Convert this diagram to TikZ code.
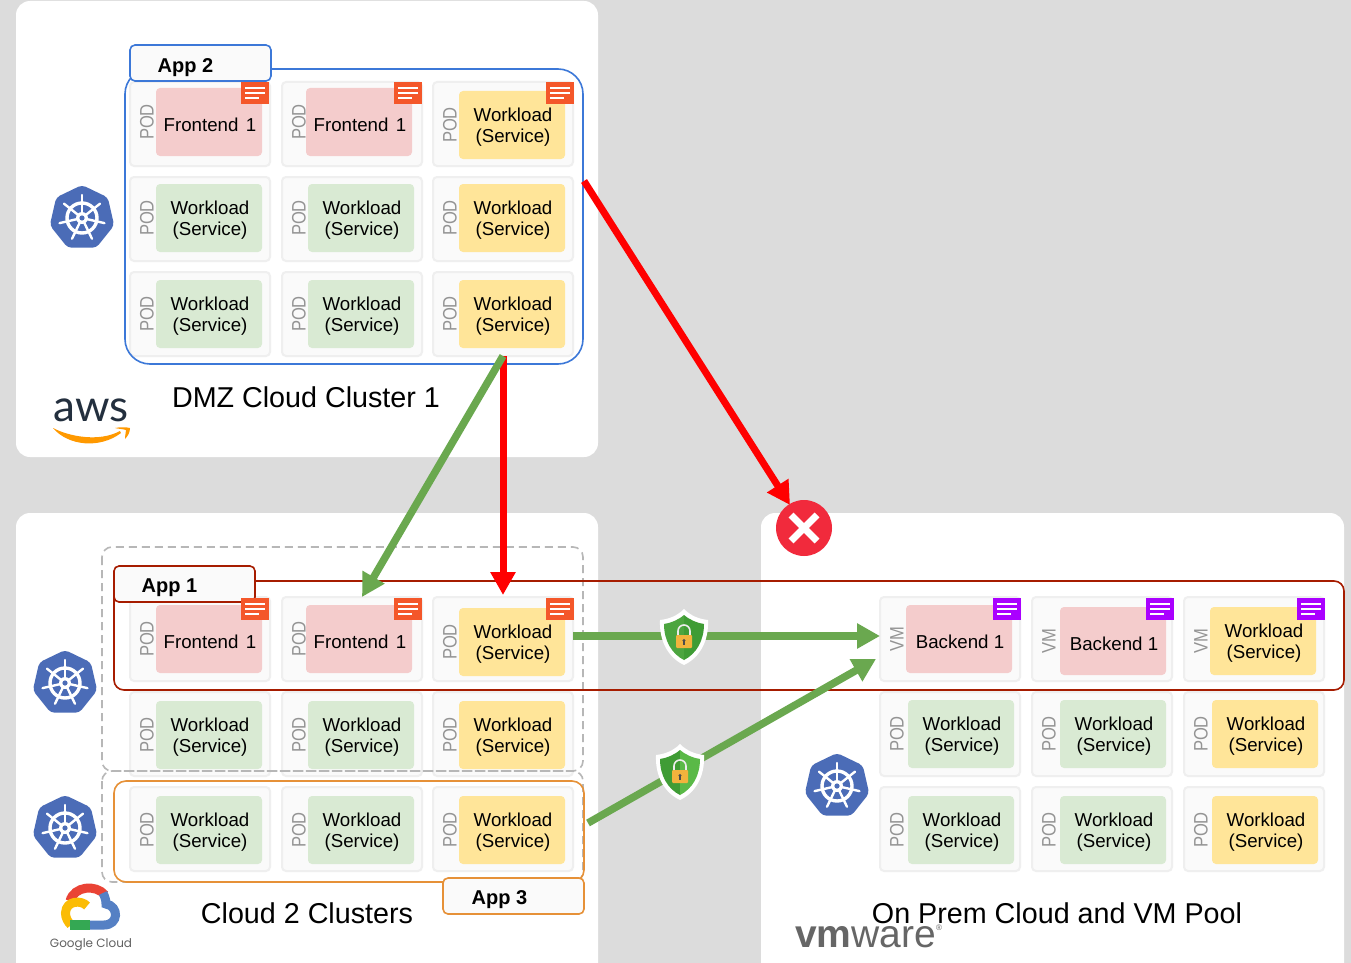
\documentclass[tikz,border=0pt]{standalone}
\usepackage{fontspec}
\setmainfont{Liberation Sans}
\newfontfamily\awsfont{Lato}
\newfontfamily\gfont{Poppins}
\usetikzlibrary{arrows.meta,shapes.geometric,calc}
\definecolor{bggrey}{HTML}{DCDCDC}
\definecolor{podline}{HTML}{EFEFEF}
\definecolor{podfill}{HTML}{FAFAFA}
\definecolor{pinkc}{HTML}{F4CCCC}
\definecolor{greenc}{HTML}{D9EAD3}
\definecolor{yellowc}{HTML}{FFE599}
\definecolor{tagorange}{HTML}{F4572A}
\definecolor{tagpurple}{HTML}{AA00FF}
\definecolor{blueg}{HTML}{3C78D8}
\definecolor{redg}{HTML}{A61C00}
\definecolor{orangeg}{HTML}{E69138}
\definecolor{dashg}{HTML}{B7B7B7}
\definecolor{arrowg}{HTML}{6AA84F}
\definecolor{kube}{HTML}{4B6CB7}
\definecolor{awsdark}{HTML}{232F3E}
\definecolor{awsorange}{HTML}{FF9900}
\definecolor{gred}{HTML}{EA4335}
\definecolor{gblue}{HTML}{5580C4}
\definecolor{gyellow}{HTML}{FBBC05}
\definecolor{ggreen}{HTML}{34A853}
\definecolor{shielda}{HTML}{3F9C35}
\definecolor{shieldb}{HTML}{5AB947}
\definecolor{shieldc}{HTML}{4CA53F}
\definecolor{lockc}{HTML}{F2B33D}
\definecolor{denyc}{HTML}{F12A3C}
\tikzset{
  panel/.style={fill=white,rounded corners=14pt},
  podbox/.style={draw=podline,fill=podfill,line width=2pt,rounded corners=4pt,anchor=north west,minimum width=140pt,minimum height=84pt,inner sep=0pt,outer sep=0pt},
  inbox/.style={rounded corners=4pt,anchor=north west,minimum width=106pt,minimum height=68pt,inner sep=0pt,outer sep=0pt},
  intext/.style={inner sep=0pt,align=center,font=\fontsize{18.7}{21}\selectfont,text=black},
  podlabel/.style={rotate=90,text=black!42,inner sep=0pt,font=\fontsize{19.5}{19.5}\selectfont},
  apptag/.style={rounded corners=5pt,fill=podfill,line width=1.6pt,anchor=north west,minimum width=141pt,minimum height=36pt,inner sep=0pt,outer sep=0pt,font=\fontsize{20}{20}\selectfont\bfseries},
  tagtext/.style={inner sep=0pt,font=\fontsize{20}{20}\selectfont\bfseries},
  grouprect/.style={rounded corners=#1,line width=1.6pt,outer sep=0pt},
  dashrect/.style={draw=dashg,line width=1.6pt,dash pattern=on 8pt off 5pt,rounded corners=10pt},
  titletext/.style={font=\fontsize{28.7}{28.7}\selectfont,text=black,inner sep=0pt},
  goodarrow/.style={draw=arrowg,line width=7.5pt,-{Triangle[length=23pt,width=24pt]}},
  badarrow/.style={draw=red,line width=7pt,-{Triangle[length=23pt,width=24pt]}},
  kubehex/.style={regular polygon,regular polygon sides=7,fill=kube,minimum size=66pt,inner sep=0pt,rounded corners=4pt},
  swatch/.style={anchor=north west,minimum width=28pt,minimum height=22pt,inner sep=0pt,outer sep=0pt},
}
% id, pod x, pod y, label, inner x, inner y, fill, text
\newcommand{\podcell}[8]{%
  \node[podbox] (#1) at (#2,#3) {};
  \node[inbox,fill=#7] (#1-in) at (#5,#6) {};
  \node[intext] (#1-txt) at ([shift={(1pt,-2.5pt)}]#1-in.center) {#8};
  \node[podlabel] (#1-tag) at (#2+17,#6+34) {\scalebox{0.85}[1]{#4}};
}
\newcommand{\docicon}[4]{%
  \node[swatch,fill=#4] (#1) at (#2,#3) {};
  \fill[white] (#2+4,#3+5) rectangle ++(20,2.2);
  \fill[white] (#2+4,#3+10) rectangle ++(20,2.2);
  \fill[white] (#2+4,#3+15) rectangle ++(14,2.2);
}
\newcommand{\kubelogo}[3]{%
  \node[kubehex] (#1) at (#2,#3) {};
  \draw[white,line width=3.4pt] (#1.center) circle[radius=15pt];
  \foreach \a in {90,141.43,192.86,244.29,295.71,347.14,38.57}{
    \draw[white,line width=2.4pt,line cap=round] (#1.center) -- ([shift={(\a:23pt)}]#1.center);
  }
  \fill[white] (#1.center) circle[radius=6pt];
  \fill[kube] (#1.center) circle[radius=2.6pt];
}
% id, x, y, left green, right green
\newcommand{\shieldicon}[5]{%
  \coordinate (#1) at (#2,#3);
  \begin{scope}[shift={(#1)}]
    \fill[white] (0,-28) .. controls (-7,-21) and (-15,-18) .. (-24,-17) .. controls (-25,5) and (-15,21) .. (0,28) .. controls (15,21) and (25,5) .. (24,-17) .. controls (15,-18) and (7,-21) .. (0,-28) -- cycle;
    \fill[#4] (0,-22) .. controls (-6,-17) and (-13,-14) .. (-20,-13) .. controls (-20,4) and (-12,17) .. (0,23) -- cycle;
    \fill[#5] (0,-22) .. controls (6,-17) and (13,-14) .. (20,-13) .. controls (20,4) and (12,17) .. (0,23) -- cycle;
    \draw[white!85!gray,line width=1.6pt] (-6,0) -- (-6,-6) arc[start angle=180,end angle=0,radius=6pt] -- (6,0);
    \fill[rounded corners=1pt,fill=lockc] (-8,-2) rectangle (8,11);
    \fill[black!70] (0,3.5) circle[radius=1.7pt];
    \fill[black!70] (-0.8,3.5) rectangle (0.8,8);
  \end{scope}
}
\newcommand{\fe}{Frontend\hspace{7.4pt}1}
\newcommand{\wl}{Workload\\(Service)}
\begin{document}
\begin{tikzpicture}[x=1pt,y=-1pt]
\useasboundingbox (0,0) rectangle (1351,963);
\fill[bggrey] (0,0) rectangle (1351,963);
% panels
\fill[panel] (16,1) rectangle (598,457);
\fill[panel] (16,513) rectangle (598,990);
\fill[panel] (761,513) rectangle (1344,990);
% DMZ cluster
\podcell{a11}{130}{82}{POD}{156}{88}{pinkc}{\fe}
\podcell{a12}{282}{82}{POD}{306}{88}{pinkc}{\fe}
\podcell{a13}{433}{82}{POD}{459}{91}{yellowc}{\wl}
\podcell{a21}{130}{177}{POD}{156}{184}{greenc}{\wl}
\podcell{a22}{282}{177}{POD}{308}{184}{greenc}{\wl}
\podcell{a23}{433}{177}{POD}{459}{184}{yellowc}{\wl}
\podcell{a31}{130}{272}{POD}{156}{280}{greenc}{\wl}
\podcell{a32}{282}{272}{POD}{308}{280}{greenc}{\wl}
\podcell{a33}{433}{272}{POD}{459}{280}{yellowc}{\wl}
\node[draw=blueg,grouprect=25pt,anchor=north west,minimum width=458pt,minimum height=295pt,inner sep=0pt] (app2grp) at (125,69) {};
\node[apptag,draw=blueg] (app2) at (130,45) {};
\node[tagtext] (app2t) at ([shift={(-15pt,-4.5pt)}]app2.center) {App 2};
\docicon{a11d}{241}{82}{tagorange}
\docicon{a12d}{394}{82}{tagorange}
\docicon{a13d}{546}{82}{tagorange}
\kubelogo{k1}{82}{218}
\node[titletext] (t1) at (306,397) {DMZ Cloud Cluster 1};
% aws logo
\node[inner sep=0pt,anchor=base,text=awsdark,font=\awsfont\fontsize{44}{44}\selectfont] (aws) at (91,421) {aws};
\fill[awsorange] (53,428) .. controls (70,437) and (100,442) .. (120,431) -- (121,433) .. controls (100,449) and (68,446) .. (53,428) -- cycle;
\fill[awsorange] (115,428) .. controls (120,427) and (126,427) .. (130,428) .. controls (130,432) and (128,436) .. (125,439) .. controls (125,435) and (126,432) .. (126,430) .. controls (123,429) and (119,429) .. (115,428) -- cycle;
% Cloud 2
\podcell{b11}{130}{597}{POD}{156}{605}{pinkc}{\fe}
\podcell{b12}{282}{597}{POD}{306}{605}{pinkc}{\fe}
\podcell{b13}{433}{597}{POD}{459}{608}{yellowc}{\wl}
\podcell{b21}{130}{692}{POD}{156}{701}{greenc}{\wl}
\podcell{b22}{282}{692}{POD}{308}{701}{greenc}{\wl}
\podcell{b23}{433}{692}{POD}{459}{701}{yellowc}{\wl}
\podcell{b31}{130}{787}{POD}{156}{796}{greenc}{\wl}
\podcell{b32}{282}{787}{POD}{308}{796}{greenc}{\wl}
\podcell{b33}{433}{787}{POD}{459}{796}{yellowc}{\wl}
% On prem
\podcell{c11}{880}{597}{VM}{906}{605}{pinkc}{Backend 1}
\podcell{c12}{1032}{597}{VM}{1060}{607}{pinkc}{Backend 1}
\podcell{c13}{1184}{597}{VM}{1210}{607}{yellowc}{\wl}
\podcell{c21}{880}{692}{POD}{908}{700}{greenc}{\wl}
\podcell{c22}{1032}{692}{POD}{1060}{700}{greenc}{\wl}
\podcell{c23}{1184}{692}{POD}{1212}{700}{yellowc}{\wl}
\podcell{c31}{880}{787}{POD}{908}{796}{greenc}{\wl}
\podcell{c32}{1032}{787}{POD}{1060}{796}{greenc}{\wl}
\podcell{c33}{1184}{787}{POD}{1212}{796}{yellowc}{\wl}
% groups
\draw[dashrect] (102,547) rectangle (583,771);
\draw[dashrect] (102,771) rectangle (583,882);
\node[draw=redg,grouprect=10pt,anchor=north west,minimum width=1230pt,minimum height=109pt,inner sep=0pt] (app1grp) at (114,581) {};
\node[apptag,draw=redg] (app1) at (114,566) {};
\node[tagtext] (app1t) at ([shift={(-15pt,-4pt)}]app1.center) {App 1};
\node[draw=orangeg,grouprect=12pt,anchor=north west,minimum width=470pt,minimum height=101pt,inner sep=0pt] (app3grp) at (114,781) {};
\node[apptag,draw=orangeg] (app3) at (443,878) {};
\node[tagtext] (app3t) at ([shift={(-14pt,-4pt)}]app3.center) {App 3};
\docicon{b11d}{241}{598}{tagorange}
\docicon{b12d}{394}{598}{tagorange}
\docicon{b13d}{546}{598}{tagorange}
\docicon{c11d}{993}{598}{tagpurple}
\docicon{c12d}{1146}{598}{tagpurple}
\docicon{c13d}{1297}{598}{tagpurple}
\kubelogo{k2}{65}{683}
\kubelogo{k3}{65}{828}
\kubelogo{k4}{837}{786}
\node[titletext] (t2) at (307,913) {Cloud 2 Clusters};
% google cloud logo
\draw[line width=9pt,color=gred] (70,901) .. controls (74,886) and (96,884) .. (105,895);
\draw[line width=9pt,color=gblue] (90,925) -- (104,925) .. controls (119,925) and (119,906) .. (106,904) .. controls (106,900) and (105,897) .. (103,893);
\draw[line width=9pt,color=gyellow] (87,906) .. controls (82,900) and (66,900) .. (65.5,913) .. controls (65.5,918) and (68,922) .. (71,925);
\draw[line width=9.5pt,color=ggreen] (70,925.2) -- (90,925.2);
\node[inner sep=0pt,text=black!62,font=\gfont\fontsize{12}{13}\selectfont] (gc) at (91,945) {Google Cloud};
% vmware logo
\node[anchor=base west,inner sep=0pt,text=black!60,font=\fontsize{39}{39}\selectfont] (vmw) at (795,947) {\textbf{vm}ware\raisebox{17pt}{\fontsize{8}{8}\selectfont ®}};
\node[titletext] (t3) at (1057,913) {On Prem Cloud and VM Pool};
% arrows
\coordinate (g1s) at (503,356);
\coordinate (g1e) at (362,597);
\coordinate (r1s) at (584,181);
\coordinate (r1e) at (790,505);
\coordinate (r2e) at (503,595);
\coordinate (g2s) at (573,636);
\coordinate (g2e) at (880,636);
\coordinate (g3s) at (588,823);
\coordinate (g3e) at (876,659);
\draw[badarrow] (g1s) -- (r2e);
\draw[goodarrow] (g1s) -- (g1e);
\draw[badarrow] (r1s) -- (r1e);
\draw[goodarrow] (g2s) -- (g2e);
\draw[goodarrow] (g3s) -- (g3e);
\shieldicon{s1}{684}{637}{shieldc}{shielda}
\shieldicon{s2}{680}{772}{shielda}{shieldb}
% forbidden mark
\node[circle,fill=denyc,minimum size=56pt,inner sep=0pt] (deny) at (804,528) {};
\draw[white,line width=7pt] ([shift={(-13pt,-13pt)}]deny.center) -- ([shift={(13pt,13pt)}]deny.center);
\draw[white,line width=7pt] ([shift={(-13pt,13pt)}]deny.center) -- ([shift={(13pt,-13pt)}]deny.center);
\end{tikzpicture}
\end{document}
